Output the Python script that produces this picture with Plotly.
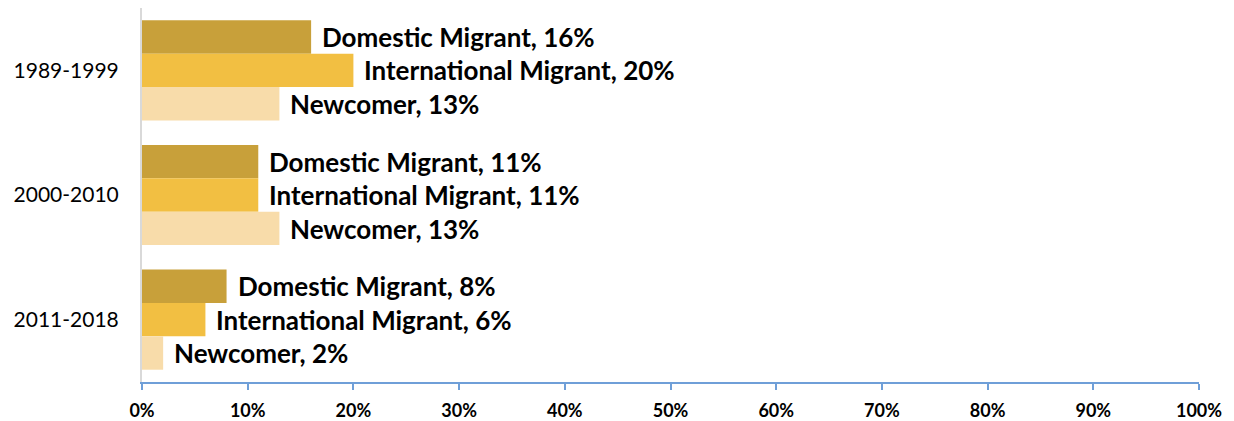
import plotly.graph_objects as go

# Share of population (percent) by period and group
periods = ["1989-1999", "2000-2010", "2011-2018"]
domestic = [16, 11, 8]
international = [20, 11, 6]
newcomer = [13, 13, 2]

series = [
    ("Domestic Migrant", domestic, "#C8A03A"),
    ("International Migrant", international, "#F2BF42"),
    ("Newcomer", newcomer, "#F8DCAA"),
]

tick_vals = list(range(0, 101, 10))
tick_text = [f"{v}%" for v in tick_vals]

FONT = "Lato, 'Open Sans', sans-serif"

fig = go.Figure()
for name, vals, color in series:
    fig.add_trace(go.Bar(
        y=periods,
        x=vals,
        name=name,
        orientation="h",
        marker=dict(color=color, line=dict(width=0)),
        hoverinfo="skip",
    ))

# Value labels to the right of each bar
n = len(series)
for si, (name, vals, color) in enumerate(series):
    for ci, period in enumerate(periods):
        fig.add_annotation(
            x=vals[ci],
            y=ci,
            yref="y",
            xref="x",
            text=f"<b>{name}, {vals[ci]}%</b>",
            showarrow=False,
            xanchor="left",
            yanchor="middle",
            xshift=9,
            yshift=-(si - (n - 1) / 2) * 33.5,
            font=dict(family=FONT, size=26, color="#000000"),
        )

fig.update_layout(
    width=1234,
    height=421,
    margin=dict(l=142, r=35, t=8, b=39, autoexpand=False),
    paper_bgcolor="white",
    plot_bgcolor="white",
    barmode="group",
    bargap=0.197,
    bargroupgap=0,
    showlegend=False,
    xaxis=dict(
        range=[0, 100],
        tickvals=tick_vals,
        ticktext=tick_text,
        showgrid=False,
        zeroline=False,
        showline=True,
        linecolor="#6F9FD8",
        linewidth=1.5,
        ticks="outside",
        ticklen=6,
        tickcolor="#6F9FD8",
        tickwidth=1.5,
        ticklabelstandoff=6,
        tickfont=dict(family=FONT, size=18, color="#000000", weight="bold"),
        automargin=False,
        fixedrange=True,
    ),
    yaxis=dict(
        autorange="reversed",
        showgrid=False,
        zeroline=False,
        showline=True,
        linecolor="#D9D9D9",
        linewidth=2,
        ticks="",
        ticklabelstandoff=17,
        tickfont=dict(family=FONT, size=21, color="#000000"),
        automargin=False,
        fixedrange=True,
    ),
)

fig.write_html("out.html")
